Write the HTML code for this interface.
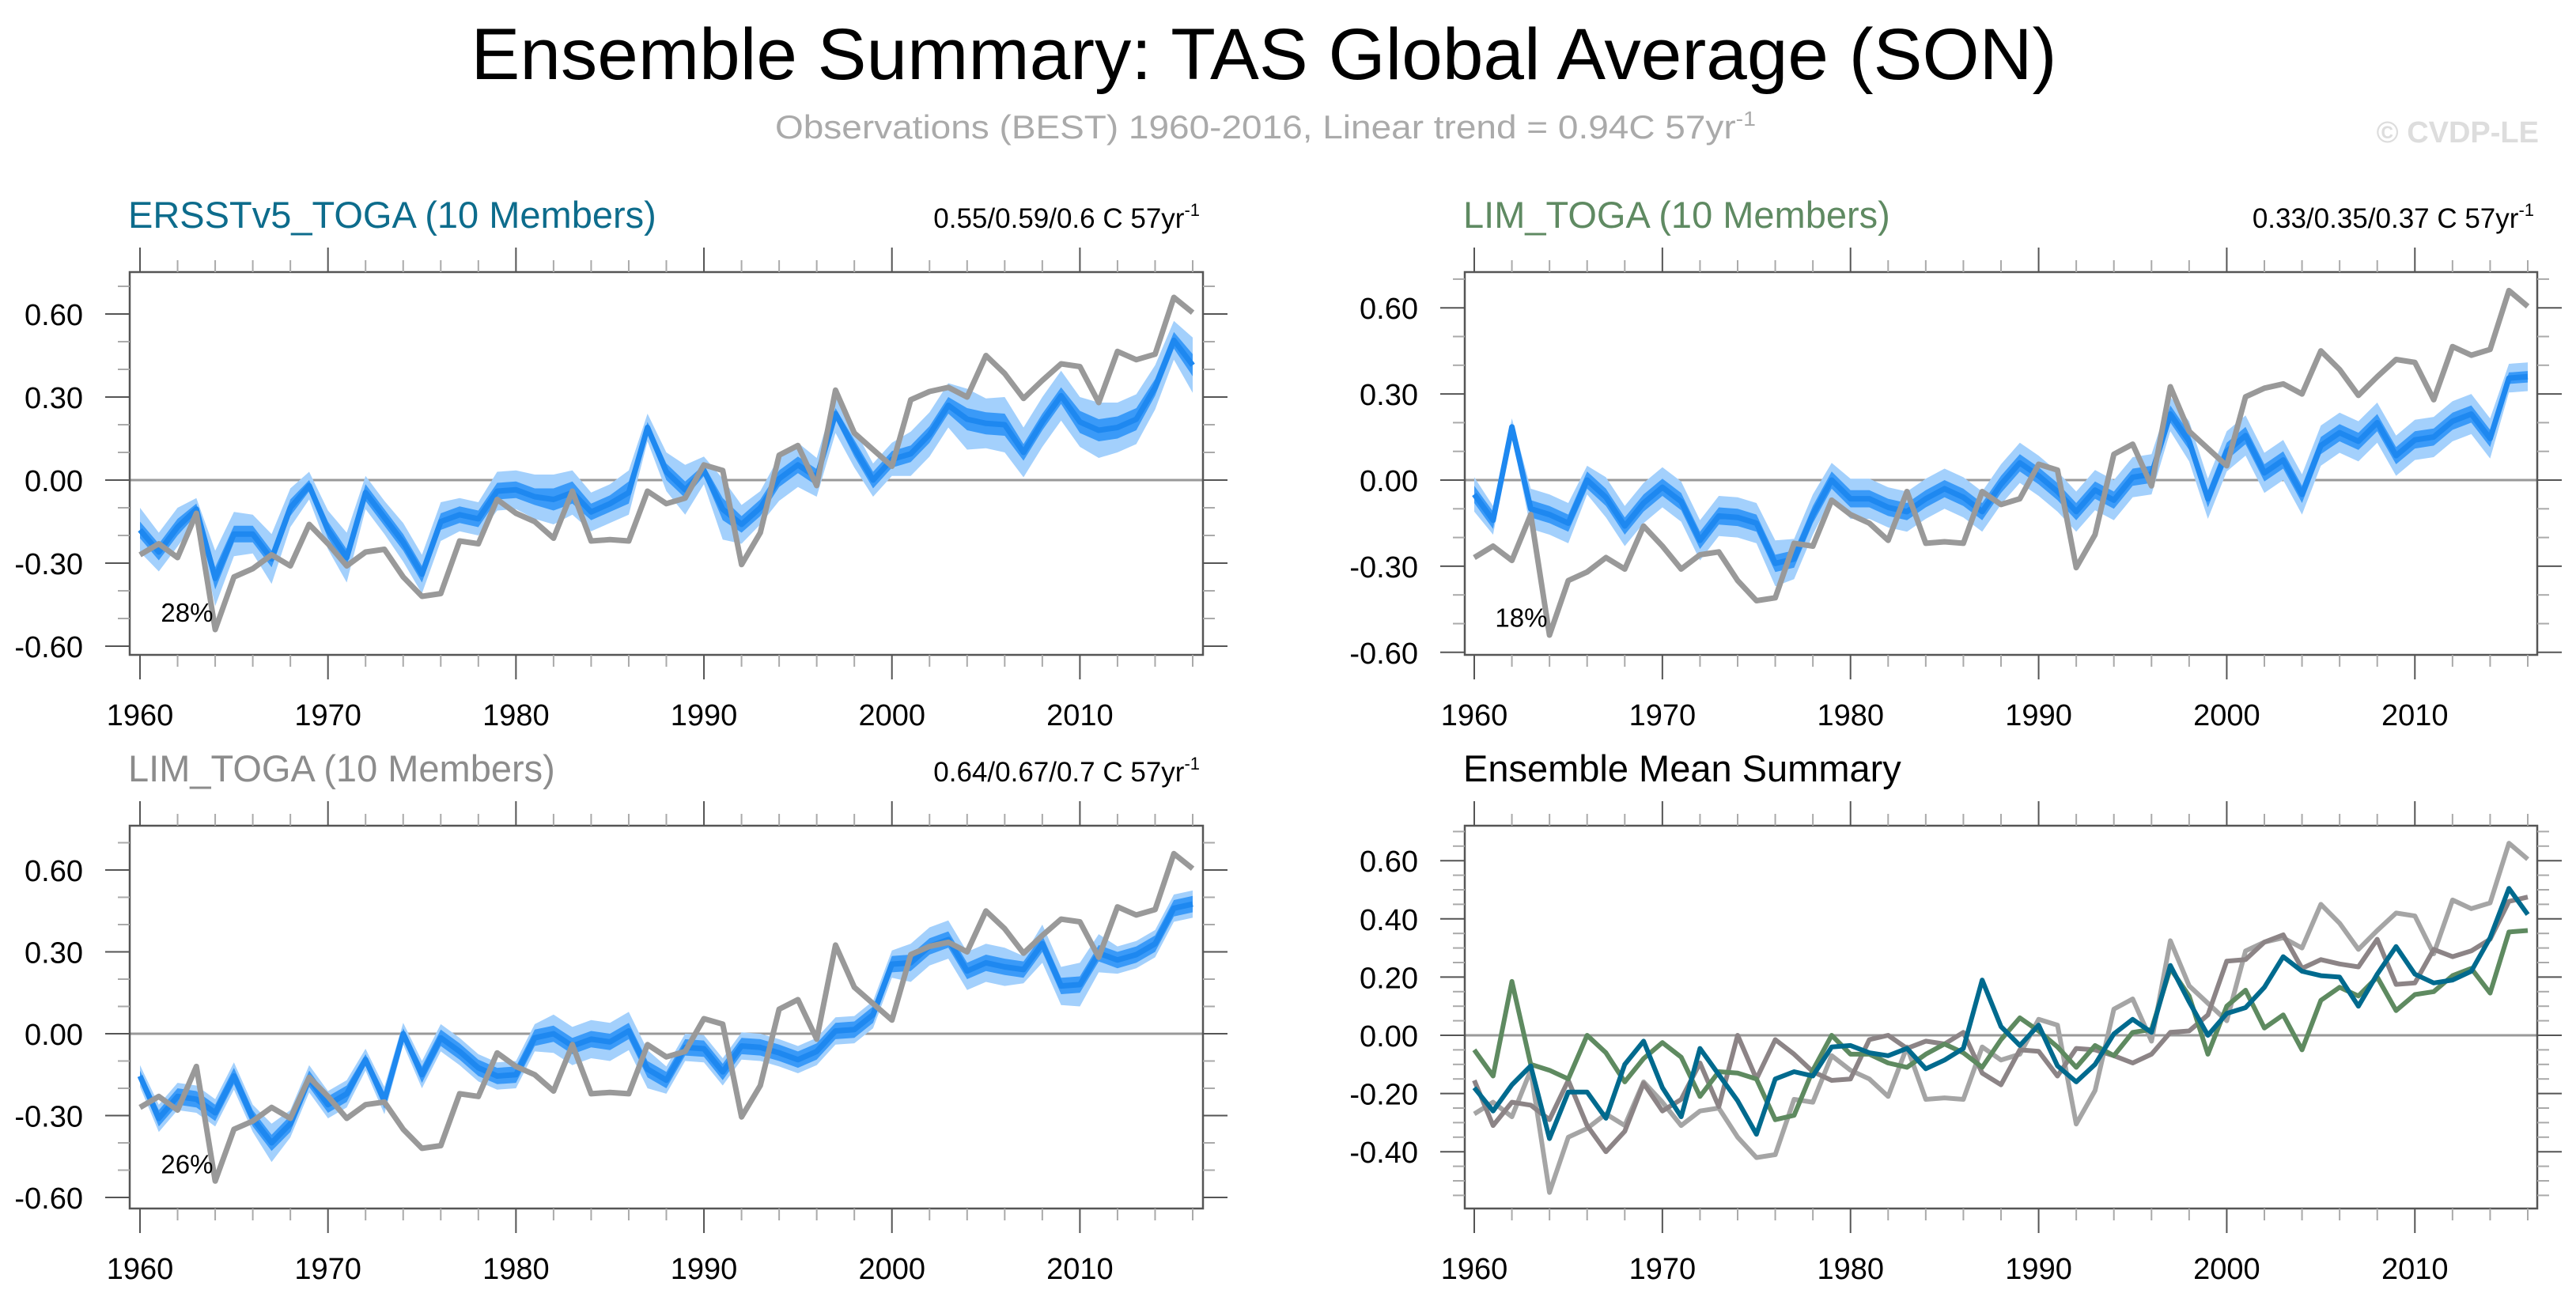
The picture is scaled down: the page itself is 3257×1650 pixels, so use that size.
<!DOCTYPE html>
<html><head><meta charset="utf-8"><style>
html,body{margin:0;padding:0;background:#fff;}
svg{display:block;font-family:"Liberation Sans",sans-serif;}
</style></head><body>
<svg id="chart" width="3257" height="1650" viewBox="0 0 3257 1650" xmlns="http://www.w3.org/2000/svg">
<text x="1598" y="100" font-size="92" text-anchor="middle" textLength="2005" lengthAdjust="spacingAndGlyphs">Ensemble Summary: TAS Global Average (SON)</text>
<text x="1600" y="175" font-size="42" fill="#aaaaaa" text-anchor="middle" textLength="1240" lengthAdjust="spacingAndGlyphs">Observations (BEST) 1960-2016, Linear trend = 0.94C 57yr<tspan dy="-16" font-size="26">-1</tspan></text>
<text x="3210" y="180" font-size="38" font-weight="bold" fill="#dddddd" text-anchor="end">© CVDP-LE</text>
</svg>
<script>
const years = [];
for (let y = 1960; y <= 2016; y++) years.push(y);
const obs = [-0.27,-0.23,-0.28,-0.12,-0.54,-0.35,-0.32,-0.27,-0.31,-0.16,-0.23,-0.31,-0.26,-0.25,-0.35,-0.42,-0.41,-0.22,-0.23,-0.07,-0.12,-0.15,-0.21,-0.04,-0.22,-0.215,-0.22,-0.04,-0.085,-0.065,0.055,0.035,-0.305,-0.19,0.09,0.125,-0.02,0.325,0.17,0.11,0.05,0.29,0.32,0.335,0.30,0.45,0.385,0.295,0.36,0.42,0.41,0.28,0.465,0.435,0.455,0.66,0.605];
const ersstMean = [-0.18,-0.26,-0.17,-0.105,-0.355,-0.195,-0.195,-0.285,-0.1,-0.02,-0.18,-0.28,-0.045,-0.135,-0.225,-0.34,-0.15,-0.125,-0.14,-0.04,-0.035,-0.06,-0.07,-0.045,-0.115,-0.085,-0.045,0.19,0.03,-0.035,0.035,-0.105,-0.16,-0.1,0.005,0.055,0.01,0.24,0.115,0.0,0.075,0.095,0.165,0.27,0.22,0.205,0.20,0.10,0.21,0.305,0.21,0.18,0.19,0.22,0.335,0.505,0.415];
const limGreenMean = [-0.05,-0.14,0.185,-0.10,-0.12,-0.15,0.0,-0.06,-0.16,-0.08,-0.025,-0.075,-0.21,-0.125,-0.13,-0.15,-0.29,-0.275,-0.12,0.0,-0.065,-0.065,-0.095,-0.11,-0.065,-0.03,-0.06,-0.11,-0.015,0.06,0.015,-0.04,-0.11,-0.035,-0.07,0.01,0.02,0.23,0.135,-0.065,0.10,0.155,0.025,0.07,-0.05,0.12,0.165,0.135,0.20,0.085,0.14,0.15,0.205,0.23,0.145,0.355,0.36];
const limGrayMean = [-0.155,-0.31,-0.23,-0.24,-0.29,-0.155,-0.31,-0.40,-0.33,-0.165,-0.26,-0.22,-0.095,-0.245,0.0,-0.15,-0.015,-0.065,-0.125,-0.155,-0.15,-0.015,0.0,-0.045,-0.02,-0.03,0.01,-0.13,-0.17,-0.05,-0.055,-0.14,-0.045,-0.05,-0.07,-0.095,-0.065,0.01,0.015,0.07,0.255,0.26,0.32,0.345,0.23,0.26,0.245,0.235,0.33,0.175,0.18,0.295,0.27,0.29,0.33,0.46,0.475];
const ersstLight = [0.08,0.07,0.07,0.04,0.1,0.08,0.07,0.09,0.07,0.05,0.07,0.09,0.06,0.06,0.07,0.07,0.07,0.06,0.06,0.07,0.07,0.08,0.09,0.08,0.07,0.07,0.08,0.05,0.07,0.09,0.05,0.11,0.07,0.06,0.08,0.08,0.07,0.07,0.07,0.06,0.06,0.08,0.08,0.08,0.11,0.09,0.1,0.09,0.09,0.09,0.09,0.1,0.09,0.09,0.08,0.07,0.1];
const ersstDark = [0.03,0.03,0.03,0.02,0.04,0.03,0.03,0.03,0.03,0.02,0.03,0.03,0.03,0.03,0.03,0.03,0.03,0.03,0.03,0.03,0.03,0.03,0.04,0.04,0.03,0.03,0.04,0.02,0.03,0.03,0.02,0.04,0.03,0.03,0.03,0.03,0.03,0.02,0.03,0.03,0.03,0.03,0.03,0.03,0.04,0.04,0.04,0.03,0.03,0.03,0.04,0.04,0.04,0.04,0.03,0.03,0.04];
const limGreenLight = [0.06,0.05,0.03,0.07,0.07,0.07,0.05,0.07,0.07,0.07,0.07,0.07,0.07,0.07,0.07,0.07,0.08,0.07,0.07,0.06,0.07,0.07,0.07,0.07,0.07,0.07,0.07,0.07,0.07,0.07,0.07,0.07,0.07,0.07,0.07,0.07,0.07,0.06,0.07,0.07,0.07,0.07,0.07,0.07,0.07,0.07,0.07,0.07,0.07,0.07,0.07,0.07,0.07,0.07,0.07,0.05,0.05];
const limGreenDark = [0.03,0.03,0.01,0.03,0.03,0.03,0.03,0.03,0.03,0.03,0.03,0.03,0.03,0.03,0.03,0.03,0.03,0.03,0.03,0.03,0.03,0.03,0.03,0.03,0.03,0.03,0.03,0.03,0.03,0.03,0.03,0.03,0.03,0.03,0.03,0.03,0.03,0.03,0.03,0.03,0.03,0.03,0.03,0.03,0.03,0.03,0.03,0.03,0.03,0.03,0.03,0.03,0.03,0.03,0.03,0.02,0.02];
const limGrayLight = [0.04,0.05,0.05,0.05,0.05,0.05,0.05,0.07,0.05,0.05,0.05,0.05,0.04,0.05,0.04,0.05,0.05,0.05,0.05,0.05,0.05,0.05,0.07,0.07,0.07,0.07,0.07,0.07,0.05,0.05,0.05,0.05,0.05,0.05,0.05,0.05,0.05,0.05,0.05,0.05,0.05,0.07,0.07,0.07,0.07,0.07,0.07,0.05,0.07,0.07,0.08,0.07,0.05,0.05,0.05,0.05,0.05];
const limGrayDark = [0.02,0.03,0.03,0.03,0.03,0.03,0.03,0.03,0.03,0.03,0.03,0.03,0.02,0.03,0.02,0.03,0.03,0.03,0.03,0.03,0.03,0.03,0.03,0.03,0.03,0.03,0.03,0.03,0.03,0.03,0.03,0.03,0.03,0.03,0.03,0.03,0.03,0.03,0.03,0.03,0.03,0.03,0.03,0.03,0.03,0.03,0.03,0.03,0.03,0.03,0.03,0.03,0.03,0.03,0.03,0.03,0.03];
const xTickLabels = ["1960","1970","1980","1990","2000","2010"];
const yTicksA = ["-0.60","-0.30","0.00","0.30","0.60"];
const yTicksB = ["-0.40","-0.20","0.00","0.20","0.40","0.60"];

const NS = "http://www.w3.org/2000/svg";
const svg = document.getElementById("chart");
function mk(tag, attrs, parent) {
  const e = document.createElementNS(NS, tag);
  for (const k in attrs) e.setAttribute(k, attrs[k]);
  (parent || svg).appendChild(e);
  return e;
}

function panel(cfg) {
  const g = mk("g", {});
  
  
  const L = cfg.left, R = cfg.right, T = cfg.top, B = cfg.bottom;
  const x = yr => cfg.x0 + (yr - 1960) * (cfg.x1 - cfg.x0) / 56;
  const y = v => cfg.zeroY - v * cfg.pxPerUnit;
  const t = mk("text", {x: cfg.titleX, y: T - 56, "font-size": 47, fill: cfg.titleColor}, g);
  
  
  t.textContent = cfg.title;
  if (cfg.trend) {
    const tr = mk("text", {x: R - 4, y: T - 56, "font-size": 35, "text-anchor": "end", fill: "#000"}, g);
    
    
    tr.textContent = cfg.trend;
    const sp = mk("tspan", {dy: -15, "font-size": 22}, tr);
    sp.textContent = "-1";
  }
  const zl = mk("line", {x1: L, x2: R, y1: y(0), y2: y(0), stroke: "#999", "stroke-width": 3}, g);
  
  
  if (cfg.mean && cfg.light) {
    const band = (half, color, nm) => {
      let d = "";
      years.forEach((yr, i) => { d += (i ? "L" : "M") + x(yr).toFixed(1) + "," + y(cfg.mean[i] + half[i]).toFixed(1); });
      for (let i = years.length - 1; i >= 0; i--) d += "L" + x(years[i]).toFixed(1) + "," + y(cfg.mean[i] - half[i]).toFixed(1);
      const p = mk("path", {d: d + "Z", fill: color}, g);
      
      
    };
    band(cfg.light, "#a3d0fc", "ensemble-range-band");
    band(cfg.dark, "#3a9af8", "ensemble-iqr-band");
  }
  cfg.lines.forEach(ln => {
    const pts = years.map((yr, i) => x(yr).toFixed(1) + "," + y(ln.data[i]).toFixed(1)).join(" ");
    const pl = mk("polyline", {points: pts, fill: "none", stroke: ln.color, "stroke-width": ln.w, "stroke-linejoin": "round"}, g);
    
    
  });
  const fr = mk("rect", {x: L, y: T, width: R - L, height: B - T, fill: "none", stroke: "#555", "stroke-width": 2.5}, g);
  
  
  for (let yr = 1960; yr <= 2016; yr += 2) {
    const major = (yr % 10 === 0);
    const len = major ? 31 : 15;
    const c = major ? "#555" : "#aaa";
    mk("line", {x1: x(yr), x2: x(yr), y1: B, y2: B + len, stroke: c, "stroke-width": 2}, g);
    mk("line", {x1: x(yr), x2: x(yr), y1: T, y2: T - len, stroke: c, "stroke-width": 2}, g);
  }
  xTickLabels.forEach(lb => {
    const tl = mk("text", {x: x(+lb), y: B + 89, "font-size": 38, "text-anchor": "middle"}, g);
    
    
    tl.textContent = lb;
  });
  const vMin = (cfg.zeroY - B) / cfg.pxPerUnit, vMax = (cfg.zeroY - T) / cfg.pxPerUnit;
  const start = Math.ceil(vMin / cfg.minor - 1e-6);
  for (let k = start; k * cfg.minor <= vMax + 1e-6; k++) {
    const v = k * cfg.minor;
    const major = Math.abs(v / cfg.major - Math.round(v / cfg.major)) < 1e-6;
    const len = major ? 31 : 15;
    mk("line", {x1: L, x2: L - len, y1: y(v), y2: y(v), stroke: major ? "#555" : "#aaa", "stroke-width": 2}, g);
    mk("line", {x1: R, x2: R + len, y1: y(v), y2: y(v), stroke: major ? "#555" : "#aaa", "stroke-width": 2}, g);
  }
  cfg.yTicks.forEach(lb => {
    const tl = mk("text", {x: L - 59, y: y(+lb) + 14, "font-size": 38, "text-anchor": "end"}, g);
    
    
    tl.textContent = lb;
  });
  if (cfg.pct) {
    const pt = mk("text", {x: x(1962.5), y: y(-0.5) + 4, "font-size": 33, "text-anchor": "middle"}, g);
    
    
    pt.textContent = cfg.pct;
  }
}

const blue = "#1e88f0";
panel({name: "panel-ersstv5-toga", left: 164, right: 1521, top: 344, bottom: 828, x0: 177, x1: 1508, zeroY: 607, pxPerUnit: 350, major: 0.3, minor: 0.1, yTicks: yTicksA,
  title: "ERSSTv5_TOGA (10 Members)", titleColor: "#0d6c8c", titleX: 162, trend: "0.55/0.59/0.6 C 57yr", pct: "28%",
  mean: ersstMean, light: ersstLight, dark: ersstDark,
  lines: [{data: ersstMean, color: blue, w: 7, name: "ensemble-mean-line"}, {data: obs, color: "#999999", w: 7, name: "observations-line"}]});
panel({name: "panel-lim-toga-green", left: 1852, right: 3208, top: 344, bottom: 828, x0: 1864, x1: 3196, zeroY: 607, pxPerUnit: 363, major: 0.3, minor: 0.1, yTicks: yTicksA,
  title: "LIM_TOGA (10 Members)", titleColor: "#5f8a62", titleX: 1850, trend: "0.33/0.35/0.37 C 57yr", pct: "18%",
  mean: limGreenMean, light: limGreenLight, dark: limGreenDark,
  lines: [{data: limGreenMean, color: blue, w: 7, name: "ensemble-mean-line"}, {data: obs, color: "#999999", w: 7, name: "observations-line"}]});
panel({name: "panel-lim-toga-gray", left: 164, right: 1521, top: 1044, bottom: 1528, x0: 177, x1: 1508, zeroY: 1307, pxPerUnit: 345, major: 0.3, minor: 0.1, yTicks: yTicksA,
  title: "LIM_TOGA (10 Members)", titleColor: "#8c8c8c", titleX: 162, trend: "0.64/0.67/0.7 C 57yr", pct: "26%",
  mean: limGrayMean, light: limGrayLight, dark: limGrayDark,
  lines: [{data: limGrayMean, color: blue, w: 7, name: "ensemble-mean-line"}, {data: obs, color: "#999999", w: 7, name: "observations-line"}]});
panel({name: "panel-ensemble-mean-summary", left: 1852, right: 3208, top: 1044, bottom: 1528, x0: 1864, x1: 3196, zeroY: 1309, pxPerUnit: 368, major: 0.2, minor: 0.05, yTicks: yTicksB,
  title: "Ensemble Mean Summary", titleColor: "#000", titleX: 1850,
  lines: [{data: obs, color: "#a5a5a5", w: 6, name: "observations-line"}, {data: limGrayMean, color: "#8c8486", w: 6, name: "lim-toga-gray-mean-line"},
          {data: limGreenMean, color: "#5e8a60", w: 6, name: "lim-toga-green-mean-line"}, {data: ersstMean, color: "#006a8e", w: 6, name: "ersstv5-toga-mean-line"}]});
</script>
</body></html>
